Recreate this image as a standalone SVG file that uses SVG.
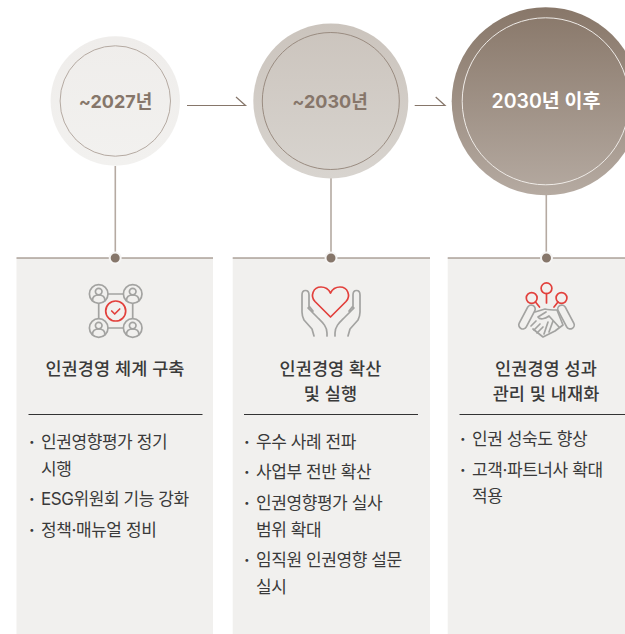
<svg xmlns="http://www.w3.org/2000/svg" width="625" height="634" viewBox="0 0 625 634">
<style>
text{font-family:"Inter","Noto Sans CJK KR",sans-serif}
.yr{font-size:18px;font-weight:700;fill:#86766a;text-anchor:middle}
.yw{font-size:19.500px;font-weight:600;fill:#fff;text-anchor:middle}
.ttl{font-size:17.500px;font-weight:500;fill:#3a3a3a;text-anchor:middle;letter-spacing:.1px}
.li{font-size:17px;fill:#3a3a3a;letter-spacing:-.42px}
.bu{font-weight:700}
.panel{fill:#f1f0ee}
.top{stroke:#86766a;stroke-width:1.2;fill:none}
.rule{stroke:#333;stroke-width:1;fill:none}
.conn{stroke:#b5aaa2;stroke-width:1.600;fill:none}
.arr{stroke:#86766a;stroke-width:1.200;fill:none}
.dot{fill:#86766a;stroke:#f6f5f4;stroke-width:2}
.g{fill:none;stroke:#a3a3a1;stroke-width:1.700;stroke-linecap:round;stroke-linejoin:round}
.r{fill:none;stroke:#e2403c;stroke-width:1.700;stroke-linecap:round;stroke-linejoin:round}
</style>
<defs>
<linearGradient id="g1" x1="0" y1="0" x2="0" y2="1"><stop offset="0" stop-color="#efedeb"/><stop offset="1" stop-color="#f2f1ef"/></linearGradient>
<linearGradient id="g2" x1="0" y1="0" x2="0" y2="1"><stop offset="0" stop-color="#cbc4bd"/><stop offset="1" stop-color="#d8d4cf"/></linearGradient>
<linearGradient id="g3" x1="0" y1="0" x2="0" y2="1"><stop offset="0" stop-color="#887769"/><stop offset="1" stop-color="#b5aaa1"/></linearGradient>
<g id="person"><circle r="9.300" class="g"/><circle cy="-2.400" r="3.300" class="g"/><path d="M-6.200 6.500c0-4.400 2.800-5.500 6.200-5.500s6.200 1.100 6.200 5.500" class="g"/></g>
</defs>
<rect width="625" height="634" fill="#fff"/>
<g id="connectors">
<path class="conn" d="M115.300 166V258M331 178V258M546.300 195V258"/>
<path class="arr" d="M187 105.500H245.500L236 97"/>
<path class="arr" d="M414.700 105.500H445L435.700 97"/>
</g>
<g id="node-1">
<circle cx="115.300" cy="101" r="64.700" fill="url(#g1)"/>
<circle cx="115.300" cy="101" r="55.200" fill="none" stroke="#b5aaa2" stroke-width="1"/>
<text class="yr" x="115.500" y="107.500">~2027년</text>
<rect class="panel" x="16.500" y="258" width="196.500" height="376"/>
<path class="top" d="M16.500 258H213"/>
<circle class="dot" cx="115.200" cy="258" r="5.500"/>
<g id="icon-1" transform="translate(115.700 311)">
<use href="#person" x="-17" y="-17"/><use href="#person" x="17" y="-17"/><use href="#person" x="-17" y="17"/><use href="#person" x="17" y="17"/>
<path class="g" d="M-7 -17H7M-7 17H7M-17 -7V7M17 -7V7"/>
<circle class="r" r="10"/><path class="r" d="M-4 0l3 3 5-5"/>
</g>
<text class="ttl" x="115" y="374.500">인권경영 체계 구축</text>
<path class="rule" d="M28.500 414.500H202.500"/>
<text class="li bu" x="29" y="447.500">·</text><text class="li" x="41" y="447.500">인권영향평가 정기</text>
<text class="li" x="41" y="474.500">시행</text>
<text class="li bu" x="29" y="504.500">·</text><text class="li" x="41" y="504.500">ESG위원회 기능 강화</text>
<text class="li bu" x="29" y="536">·</text><text class="li" x="41" y="536">정책·매뉴얼 정비</text>
</g>
<g id="node-2">
<circle cx="330.800" cy="101" r="77.500" fill="url(#g2)"/>
<circle cx="330.800" cy="101" r="68.500" fill="none" stroke="#9a8c81" stroke-width="1"/>
<text class="yr" x="330" y="107.500">~2030년</text>
<rect class="panel" x="232.700" y="258" width="197.300" height="376"/>
<path class="top" d="M232.700 258H430"/>
<circle class="dot" cx="331" cy="258" r="5.500"/>
<g id="icon-2">
<path class="r" d="M330.500 317L315 301.500C310 296 313 287 321 287C326 287 329 290 330.500 293C332 290 335 287 340 287C348 287 351 296 346 301.500Z"/>
<path class="g" d="M314 336L312 329L304 320C302.500 317 302 315 302 312V295C302 289 309 289 309 295V309M309 306L313 311M308 308L317 317C322 322 327 326 327 333V336"/>
<path class="g" d="M348 336L350 329L358 320C359.500 317 360 315 360 312V295C360 289 353 289 353 295V309M353 306L349 311M354 308L345 317C340 322 335 326 335 333V336"/>
</g>
<text class="ttl" x="330.500" y="374.500">인권경영 확산</text>
<text class="ttl" x="330.500" y="399.500">및 실행</text>
<path class="rule" d="M244 414.500H418"/>
<text class="li bu" x="244" y="447.500">·</text><text class="li" x="256" y="447.500">우수 사례 전파</text>
<text class="li bu" x="244" y="477.500">·</text><text class="li" x="256" y="477.500">사업부 전반 확산</text>
<text class="li bu" x="244" y="508.500">·</text><text class="li" x="256" y="508.500">인권영향평가 실사</text>
<text class="li" x="256" y="535.500">범위 확대</text>
<text class="li bu" x="244" y="565.500">·</text><text class="li" x="256" y="565.500">임직원 인권영향 설문</text>
<text class="li" x="256" y="592.500">실시</text>
</g>
<g id="node-3">
<circle cx="545.700" cy="101.300" r="94" fill="url(#g3)"/>
<circle cx="545.700" cy="101.300" r="83.500" fill="none" stroke="#efebe7" stroke-width="1"/>
<text class="yw" x="546" y="107.500">2030년 이후</text>
<rect class="panel" x="447.700" y="258" width="177.300" height="376"/>
<path class="top" d="M447.700 258H625"/>
<circle class="dot" cx="546.500" cy="258" r="5.500"/>
<g id="icon-3">
<circle class="r" cx="546.500" cy="288.300" r="5.400"/><path class="r" d="M546.500 293.700V303"/>
<circle class="r" cx="531.700" cy="298" r="5.400"/><path class="r" d="M535.500 302L539.500 307"/>
<circle class="r" cx="561.500" cy="298" r="5.400"/><path class="r" d="M558 302L554 307"/>
<rect class="g" x="-4" y="-13" width="8" height="26" rx="4" transform="translate(527 317) rotate(28)"/>
<rect class="g" x="-4" y="-13" width="8" height="26" rx="4" transform="translate(566 317) rotate(-28)"/>
<path class="g" d="M535 312L545 309C549 310 552 310 557 310L563 325L555 331L543 337L533 329"/>
<path class="g" d="M546 312L538 317C540 320 545 319 549 316L559 327M553 321L549 332M548 322L544 334M531 326L536 321M534 330L540 324M537 333L543 327"/>
</g>
<text class="ttl" x="546" y="374.500">인권경영 성과</text>
<text class="ttl" x="546" y="399.500">관리 및 내재화</text>
<path class="rule" d="M459.500 414.500H625"/>
<text class="li bu" x="460" y="444.500">·</text><text class="li" x="472" y="444.500">인권 성숙도 향상</text>
<text class="li bu" x="460" y="475.500">·</text><text class="li" x="472" y="475.500">고객·파트너사 확대</text>
<text class="li" x="472" y="501.500">적용</text>
</g>
</svg>
